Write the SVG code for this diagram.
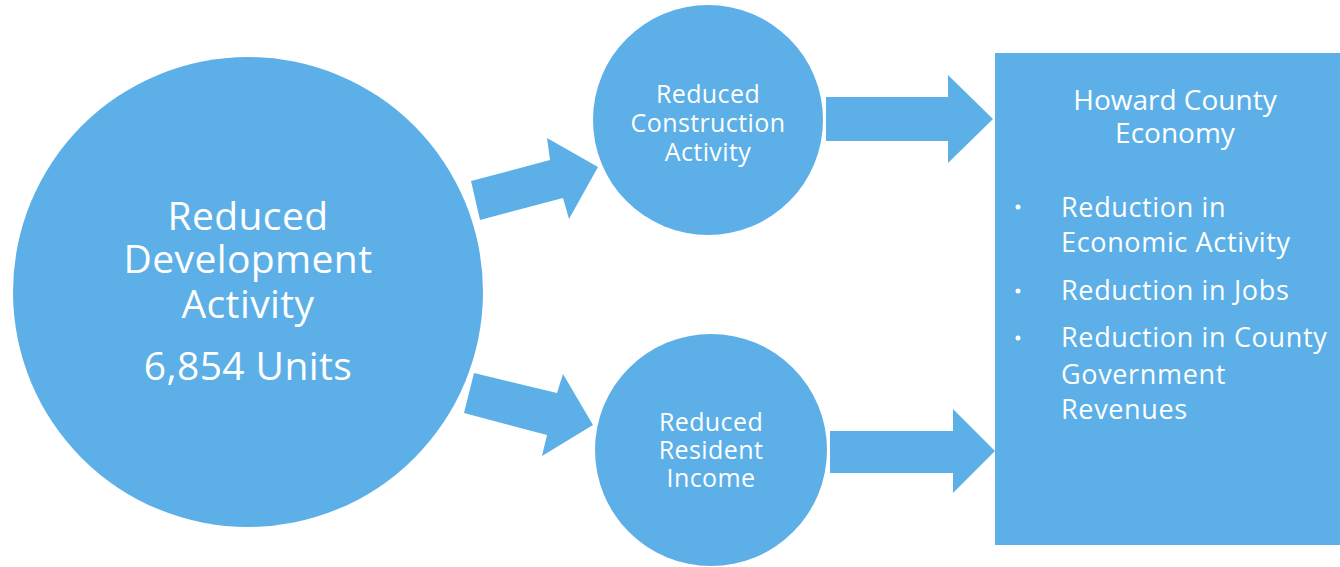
<svg xmlns="http://www.w3.org/2000/svg" width="1340" height="567" viewBox="0 0 1340 567">
<style>
.shape{fill:#5cb0e7}
.t{fill:#ffffff;font-family:"Open Sans","DejaVu Sans",sans-serif}
.c{text-anchor:middle}
.big{font-size:39px;letter-spacing:0.4px}
.mid{font-size:25px;letter-spacing:0.4px}
.head{font-size:28px}
.item{font-size:27px;letter-spacing:0.65px}
</style>
<rect width="1340" height="567" fill="#ffffff"/>
<g id="connectors">
<polygon class="shape" points="471,181 550,160 547,138 598,167 569,219 563,198 480,220"/>
<polygon class="shape" points="474,373 557,393 563,374 593,425 542,456 547,435 464,413"/>
<polygon class="shape" points="826,97 948,97 948,75 993,119 948,163 948,141 826,141"/>
<polygon class="shape" points="830,431 953,431 953,409 995,451 953,493 953,473 830,473"/>
</g>
<g id="node-development">
<circle class="shape" cx="248" cy="292" r="235"/>
<text class="t c big"><tspan x="248" y="230">Reduced</tspan><tspan x="248" y="273">Development</tspan><tspan x="248" y="318">Activity</tspan><tspan x="248" y="380">6,854 Units</tspan></text>
</g>
<g id="node-construction">
<circle class="shape" cx="708" cy="120" r="115"/>
<text class="t c mid"><tspan x="708" y="103">Reduced</tspan><tspan x="708" y="132">Construction</tspan><tspan x="708" y="161">Activity</tspan></text>
</g>
<g id="node-income">
<circle class="shape" cx="711" cy="450" r="116"/>
<text class="t c mid"><tspan x="711" y="431">Reduced</tspan><tspan x="711" y="459">Resident</tspan><tspan x="711" y="487">Income</tspan></text>
</g>
<g id="node-economy">
<rect class="shape" x="995" y="53" width="350" height="492"/>
<text class="t c head"><tspan x="1175" y="110">Howard County</tspan><tspan x="1175" y="143">Economy</tspan></text>
<g fill="#ffffff">
<circle cx="1018" cy="207" r="2.5"/>
<circle cx="1018" cy="291" r="2.5"/>
<circle cx="1018" cy="338" r="2.5"/>
</g>
<g class="t item">
<text x="1061" y="217">Reduction in</text>
<text x="1061" y="252">Economic Activity</text>
<text x="1061" y="300">Reduction in Jobs</text>
<text x="1061" y="347">Reduction in County</text>
<text x="1061" y="384">Government</text>
<text x="1061" y="419">Revenues</text>
</g>
</g>
</svg>
